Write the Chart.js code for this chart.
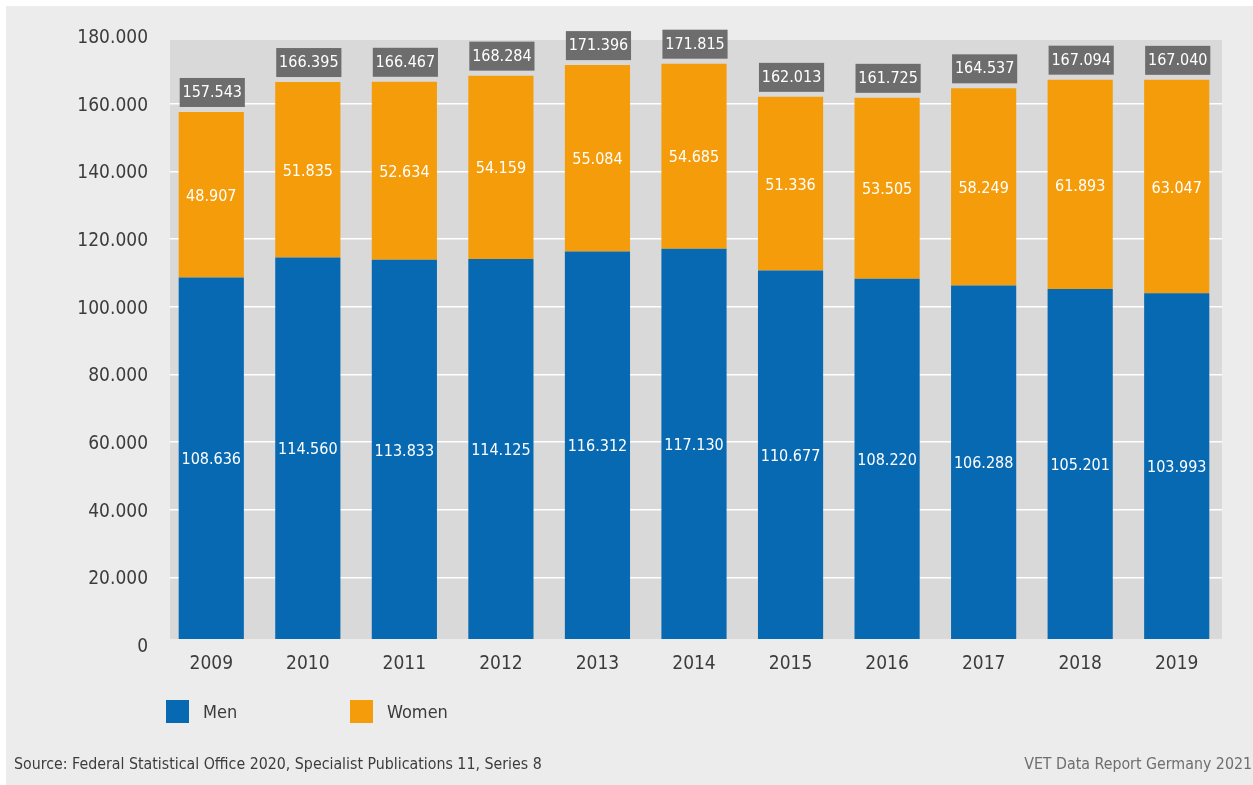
<!DOCTYPE html>
<html>
<head>
<meta charset="utf-8">
<script src="https://cdn.jsdelivr.net/npm/chart.js@4"></script>
<style>
  html, body { margin: 0; padding: 0; background: #fff; }
  canvas { display: block; }
</style>
</head>
<body>
<canvas id="chart" width="1253" height="785"></canvas>
<script>
// Trainees per year, split by sex
const years = ['2009', '2010', '2011', '2012', '2013', '2014', '2015', '2016', '2017', '2018', '2019'];
const men = [108636, 114560, 113833, 114125, 116312, 117130, 110677, 108220, 106288, 105201, 103993];
const women = [48907, 51835, 52634, 54159, 55084, 54685, 51336, 53505, 58249, 61893, 63047];
const totals = [157543, 166395, 166467, 168284, 171396, 171815, 162013, 161725, 164537, 167094, 167040];

const FONT = '"DejaVu Sans Condensed", "DejaVu Sans", sans-serif';
const MEN_COLOR = '#0669b2';
const WOMEN_COLOR = '#f59c0a';
const OUTER_BG = '#ececec';
const PANEL_BG = '#d9d9d9';

// German style thousands separator
function fmt(v) {
    return String(v).replace(/\B(?=(\d{3})+(?!\d))/g, '.');
}

// Page background, plot panel, legend, footer texts
const framePlugin = {
    id: 'frame',
    beforeDraw(chart) {
        const ctx = chart.ctx;
        const a = chart.chartArea;
        ctx.save();
        ctx.fillStyle = '#ffffff';
        ctx.fillRect(0, 0, chart.width, chart.height);
        ctx.fillStyle = OUTER_BG;
        ctx.fillRect(6, 6, chart.width - 6, chart.height - 6);
        ctx.fillStyle = PANEL_BG;
        ctx.fillRect(170, a.top + 4, 1222 - 170, a.bottom - a.top - 10);
        ctx.restore();
    },
    beforeDatasetsDraw(chart) {
        // trim the grid lines to the grey panel
        const ctx = chart.ctx;
        const a = chart.chartArea;
        ctx.save();
        ctx.fillStyle = OUTER_BG;
        ctx.fillRect(a.left - 2, a.top - 2, 170 - a.left + 2, a.bottom - a.top + 4);
        ctx.fillRect(1222, a.top - 2, a.right - 1222 + 2, a.bottom - a.top + 4);
        ctx.restore();
    },
    afterDraw(chart) {
        const ctx = chart.ctx;
        ctx.save();
        // legend
        const items = [[166, 0], [350, 1]];
        ctx.font = '18px ' + FONT;
        ctx.textBaseline = 'middle';
        items.forEach(([x, i]) => {
            const ds = chart.data.datasets[i];
            ctx.fillStyle = ds.backgroundColor;
            ctx.fillRect(x, 700, 23, 23);
            ctx.fillStyle = '#3c3c3c';
            ctx.textAlign = 'left';
            ctx.fillText(ds.label, x + 37, 713);
        });
        // footer
        ctx.font = '15.8px ' + FONT;
        ctx.fillStyle = '#3c3c3c';
        ctx.fillText('Source: Federal Statistical Office 2020, Specialist Publications 11, Series 8', 14, 765);
        ctx.fillStyle = '#6e6e6e';
        ctx.textAlign = 'right';
        ctx.fillText('VET Data Report Germany 2021', 1252, 765);
        ctx.restore();
    }
};

// Segment values inside the bars and totals in dark boxes on top
const labelPlugin = {
    id: 'barLabels',
    afterDatasetsDraw(chart) {
        const ctx = chart.ctx;
        const a = chart.chartArea;
        const visBottom = a.bottom - 6;
        ctx.save();
        ctx.font = '16px ' + FONT;
        ctx.textAlign = 'center';
        ctx.textBaseline = 'middle';
        chart.data.datasets.forEach((ds, di) => {
            chart.getDatasetMeta(di).data.forEach((bar, i) => {
                const top = Math.min(bar.y, bar.base);
                const bottom = Math.min(Math.max(bar.y, bar.base), visBottom);
                ctx.fillStyle = '#ffffff';
                ctx.fillText(fmt(ds.data[i]), bar.x, (top + bottom) / 2 + 2);
            });
        });
        const yScale = chart.scales.y;
        const topMeta = chart.getDatasetMeta(1);
        totals.forEach((t, i) => {
            const bar = topMeta.data[i];
            const y = yScale.getPixelForValue(t);
            const w = bar.width;
            ctx.fillStyle = '#6d6d6d';
            ctx.fillRect(bar.x - w / 2 + 1, y - 34, w, 29);
            ctx.fillStyle = '#ffffff';
            ctx.fillText(fmt(t), bar.x + 1, y - 19);
        });
        ctx.restore();
    }
};

new Chart(document.getElementById('chart'), {
    type: 'bar',
    data: {
        labels: years,
        datasets: [
            { label: 'Men', data: men, backgroundColor: MEN_COLOR },
            { label: 'Women', data: women, backgroundColor: WOMEN_COLOR }
        ]
    },
    options: {
        responsive: false,
        animation: false,
        devicePixelRatio: 1,
        layout: { padding: { top: 36, right: 28, left: 0, bottom: 0 } },
        datasets: {
            bar: {
                categoryPercentage: 1,
                barPercentage: 0.675,
                borderWidth: 0,
                clip: { left: 0, top: 40, right: 0, bottom: -6 }
            }
        },
        plugins: {
            legend: { display: false },
            tooltip: { enabled: false }
        },
        scales: {
            x: {
                stacked: true,
                grid: { display: false },
                border: { display: false },
                ticks: { color: '#3c3c3c', font: { family: FONT, size: 19 }, padding: 0 },
                afterFit(scale) { scale.height = 140; }
            },
            y: {
                stacked: true,
                min: 0,
                max: 180000,
                border: { display: false },
                grid: {
                    color: ctx => (ctx.tick && (ctx.tick.value === 0 || ctx.tick.value === 180000)) ? 'rgba(0,0,0,0)' : '#ffffff',
                    lineWidth: 1.5,
                    drawTicks: false
                },
                ticks: {
                    stepSize: 20000,
                    color: '#3c3c3c',
                    font: { family: FONT, size: 19 },
                    padding: 15,
                    labelOffset: 2,
                    callback: v => fmt(v)
                },
                afterFit(scale) { scale.width = 163; }
            }
        }
    },
    plugins: [framePlugin, labelPlugin]
});
</script>
</body>
</html>
